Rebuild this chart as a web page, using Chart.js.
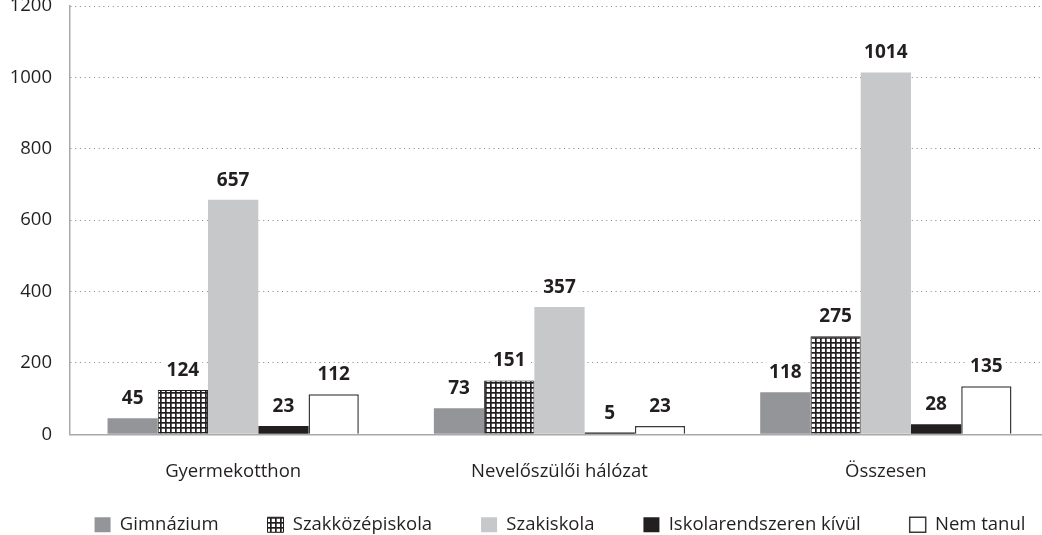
<!DOCTYPE html>
<html lang="hu">
<head>
<meta charset="UTF-8">
<title>Tanulók iskolatípus szerint</title>
<script src="https://cdn.jsdelivr.net/npm/chart.js@4"></script>
<style>
  html, body { margin: 0; padding: 0; overflow: hidden; background: #fff; }
  #wrap { position: absolute; left: 0; top: -23px; width: 1120px; height: 567px; }
</style>
</head>
<body>
<div id="wrap"><canvas id="chart"></canvas></div>
<script>
const categories = ["Gyermekotthon", "Nevelőszülői hálózat", "Összesen"];
const seriesNames = ["Gimnázium", "Szakközépiskola", "Szakiskola", "Iskolarendszeren kívül", "Nem tanul"];
const gimnazium = [45, 73, 118];
const szakkozep = [124, 151, 275];
const szakiskola = [657, 357, 1014];
const kivul = [23, 5, 28];
const nemTanul = [112, 23, 135];
const yTicks = [0, 200, 400, 600, 800, 1000, 1200];

const textColor = "#231f20";
const font = { family: "'Open Sans', sans-serif", size: 18.5 };

const canvas = document.getElementById("chart");

// grid hatch for Szakközépiskola
function hatchPattern() {
  const c = document.createElement("canvas");
  c.width = 10; c.height = 10;
  const g = c.getContext("2d");
  g.fillStyle = "#fff";
  g.fillRect(0, 0, 10, 10);
  g.fillStyle = textColor;
  g.fillRect(0, 0, 1.7, 10);
  g.fillRect(5, 0, 1.7, 10);
  g.fillRect(0, 0, 10, 1.7);
  g.fillRect(0, 5, 10, 1.7);
  return canvas.getContext("2d").createPattern(c, "repeat");
}

// value above each bar, on a white patch that breaks the gridline
const valueLabels = {
  id: "valueLabels",
  afterDatasetsDraw(chart) {
    const ctx = chart.ctx;
    ctx.save();
    ctx.font = "bold 19px 'Open Sans', sans-serif";
    ctx.textAlign = "center";
    ctx.textBaseline = "alphabetic";
    chart.data.datasets.forEach((ds, i) => {
      chart.getDatasetMeta(i).data.forEach((bar, j) => {
        const txt = String(ds.data[j]);
        const w = ctx.measureText(txt).width;
        const y = bar.y - 14;
        ctx.fillStyle = "#fff";
        ctx.fillRect(bar.x - w / 2 - 3, y - 16, w + 6, 19);
        ctx.fillStyle = textColor;
        ctx.fillText(txt, bar.x, y);
      });
    });
    ctx.restore();
  }
};

new Chart(canvas, {
  type: "bar",
  data: {
    labels: categories,
    datasets: [
      { label: seriesNames[0], data: gimnazium, backgroundColor: "#939598", borderWidth: 0 },
      { label: seriesNames[1], data: szakkozep, backgroundColor: hatchPattern(), borderColor: textColor, borderWidth: 1 },
      { label: seriesNames[2], data: szakiskola, backgroundColor: "#c7c8ca", borderWidth: 0 },
      { label: seriesNames[3], data: kivul, backgroundColor: textColor, borderWidth: 0 },
      { label: seriesNames[4], data: nemTanul, backgroundColor: "#ffffff", borderColor: "#3a3a3a", borderWidth: 1.5 }
    ]
  },
  options: {
    responsive: true,
    maintainAspectRatio: false,
    animation: false,
    categoryPercentage: 0.77,
    barPercentage: 1,
    layout: { padding: 0 },
    plugins: {
      legend: {
        position: "bottom",
        // empty title with negative padding pulls the row up so the wide item spacing does not push it down
        title: { display: true, text: "", font: { size: 1 }, padding: -9 },
        labels: { boxWidth: 16, boxHeight: 15, padding: 49, color: textColor, font: font }
      },
      tooltip: { enabled: false }
    },
    scales: {
      x: {
        grid: { display: false, drawTicks: false },
        border: { color: "#a7a9ac", width: 1.5 },
        ticks: { color: textColor, font: font, padding: 26 },
        afterFit: (s) => { s.height = 49; }
      },
      y: {
        min: yTicks[0],
        max: yTicks[yTicks.length - 1],
        ticks: { stepSize: yTicks[1] - yTicks[0], padding: 18, color: textColor, font: font, callback: (v) => String(v) },
        grid: {
          color: (c) => (c.tick && c.tick.value === 0 ? "rgba(0,0,0,0)" : "#808285"),
          lineWidth: 1,
          drawTicks: false
        },
        border: { color: "#a7a9ac", width: 1.5, dash: [1, 3.7] },
        afterFit: (s) => { s.width = 70; }
      },
      // empty right-hand box so the legend stays centred under the plot
      yRight: {
        position: "right",
        display: true,
        grid: { display: false, drawTicks: false },
        border: { display: false },
        ticks: { display: false },
        afterFit: (s) => { s.width = 71; }
      }
    }
  },
  plugins: [valueLabels]
});
</script>
</body>
</html>
